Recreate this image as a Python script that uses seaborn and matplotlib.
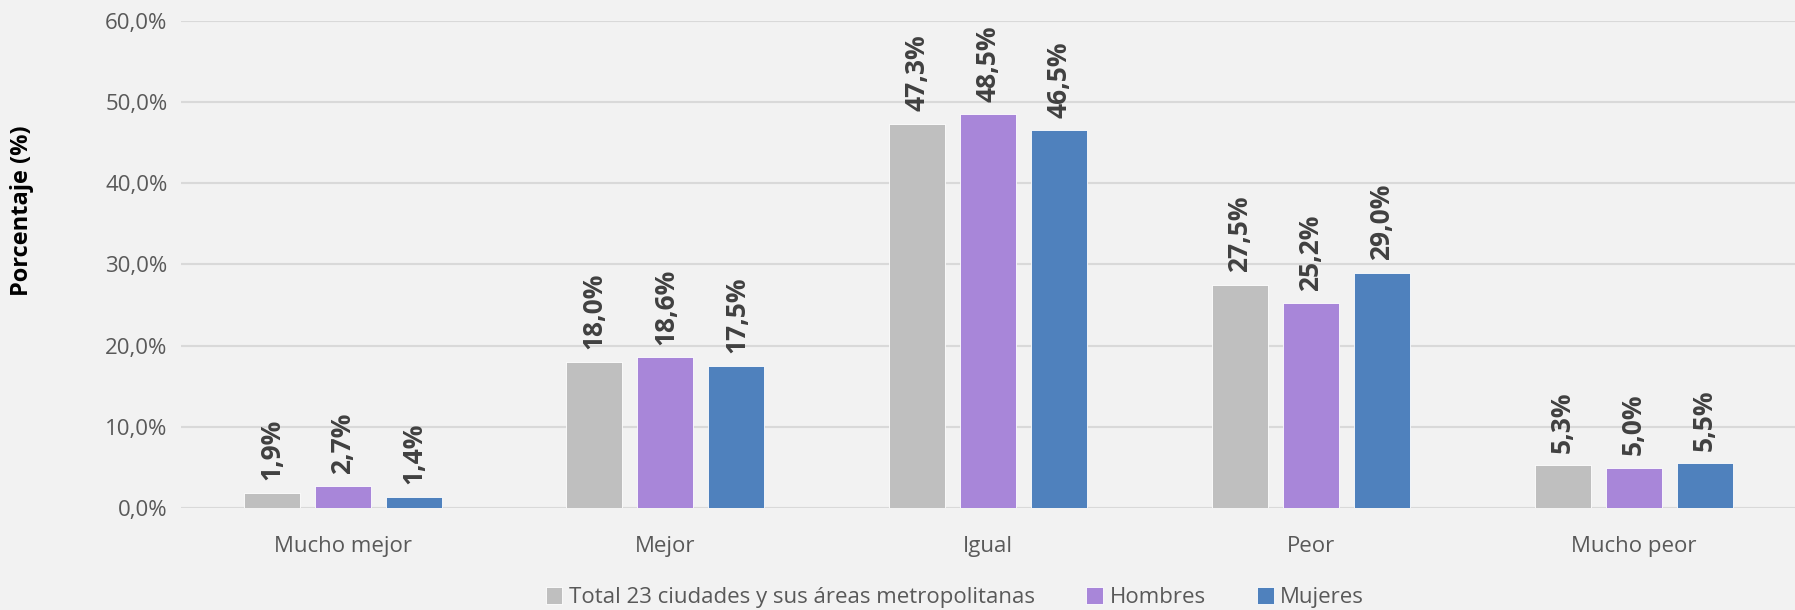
import matplotlib
matplotlib.use("Agg")
import matplotlib.pyplot as plt
import seaborn as sns
import pandas as pd
from matplotlib.ticker import FuncFormatter

# datos
categorias = ["Mucho mejor", "Mejor", "Igual", "Peor", "Mucho peor"]
series = ["Total 23 ciudades y sus áreas metropolitanas", "Hombres", "Mujeres"]
total = [1.9, 18.0, 47.3, 27.5, 5.3]
hombres = [2.7, 18.6, 48.5, 25.2, 5.0]
mujeres = [1.4, 17.5, 46.5, 29.0, 5.5]
colores = ["#BFBFBF", "#A886D9", "#4F81BD"]

filas = []
for nombre, valores in zip(series, [total, hombres, mujeres]):
    for cat, v in zip(categorias, valores):
        filas.append({"Categoria": cat, "Serie": nombre, "Valor": v})
df = pd.DataFrame(filas)

sns.set_theme(style="white")
plt.rcParams["font.family"] = ["Open Sans", "DejaVu Sans"]

fig = plt.figure(figsize=(17.95, 6.10), dpi=100, facecolor="#F2F2F2")
ax = fig.add_axes([0.101, 0.167, 0.899, 0.799])
ax.set_facecolor("#F2F2F2")

sns.barplot(data=df, x="Categoria", y="Valor", hue="Serie", order=categorias,
            hue_order=series, palette=colores, width=0.66, gap=0.21,
            edgecolor="white", linewidth=0.6, saturation=1, ax=ax)

for cont in ax.containers:
    etiquetas = [f"{b.get_height():.1f}%".replace(".", ",") for b in cont]
    ax.bar_label(cont, labels=etiquetas, rotation=90, padding=9,
                 fontsize=19, fontweight="bold", color="#404040")

ax.set_ylim(0, 60)
ax.set_xlim(-0.5, 4.5)
ax.set_yticks(range(0, 61, 10))
ax.yaxis.set_major_formatter(FuncFormatter(lambda v, p: f"{v:.1f}%".replace(".", ",")))
ax.grid(axis="y", color="#D9D9D9", linewidth=1.5)
ax.set_axisbelow(True)
for s in ax.spines.values():
    s.set_visible(False)
ax.tick_params(axis="both", length=0, labelsize=16, labelcolor="#595959", pad=10)
ax.tick_params(axis="x", pad=20)
ax.set_xlabel("")
ax.set_ylabel("Porcentaje (%)", fontsize=17, fontweight="bold", color="black")
ax.yaxis.set_label_coords(-0.091, 0.61)

ax.legend(loc="center", bbox_to_anchor=(0.532, 0.02), bbox_transform=fig.transFigure,
          ncol=3, frameon=False, fontsize=16, labelcolor="#595959",
          handlelength=0.75, handleheight=0.75, handletextpad=0.3, columnspacing=2.3)

fig.savefig("out.png", dpi=100, facecolor=fig.get_facecolor())
